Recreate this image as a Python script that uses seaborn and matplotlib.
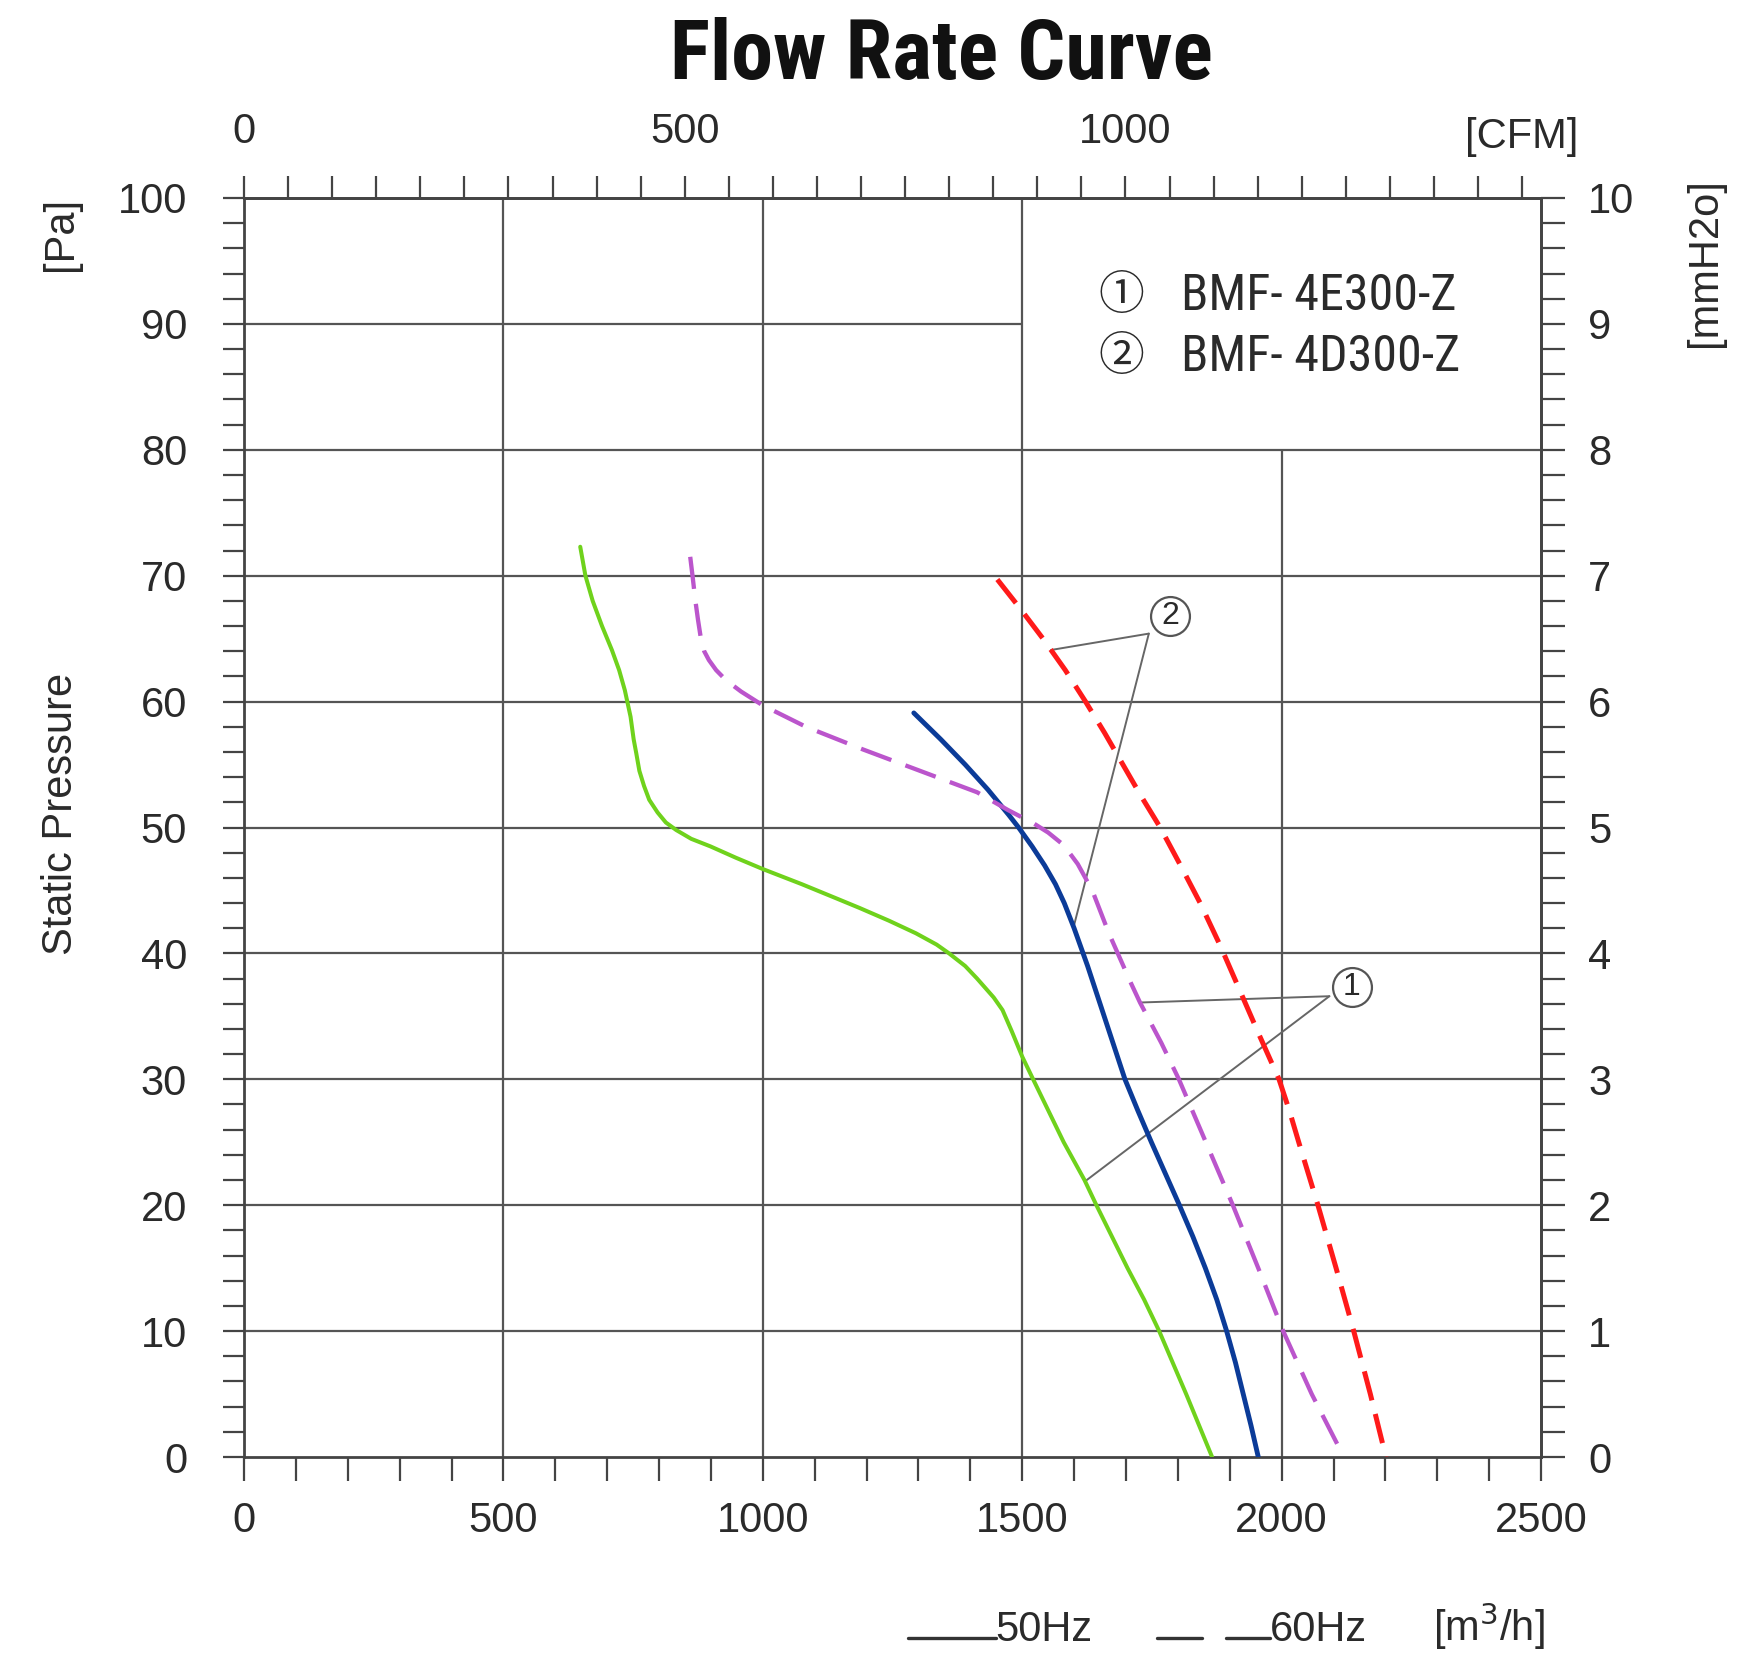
import numpy as np
import pandas as pd
import matplotlib
matplotlib.use("Agg")
import matplotlib.pyplot as plt
import matplotlib.font_manager as fm
import matplotlib.patheffects as pe
import seaborn as sns
from matplotlib.lines import Line2D
from matplotlib.ticker import MultipleLocator, FixedLocator

# ---------------- data (flow m3/h, static pressure Pa) ----------------
e_50_x = [648, 658, 672, 690, 709, 723, 734, 745, 751, 756, 762, 771, 781, 797, 813, 833,
          862, 899, 948, 1000, 1075, 1140, 1187, 1243, 1295, 1335, 1359, 1390, 1413, 1445,
          1462, 1480, 1500, 1521, 1580, 1620, 1643, 1703, 1735, 1764, 1816, 1866]
e_50_y = [72.3, 70.0, 68.0, 66.0, 64.1, 62.5, 60.9, 58.8, 57.0, 55.9, 54.5, 53.3, 52.2,
          51.2, 50.4, 49.8, 49.1, 48.5, 47.6, 46.7, 45.5, 44.4, 43.6, 42.6, 41.6, 40.7,
          40.0, 39.0, 38.0, 36.5, 35.5, 33.8, 31.8, 30.0, 25.0, 22.0, 20.0, 15.0, 12.5,
          10.0, 5.0, 0.0]

d_50_x = [1291, 1343, 1390, 1434, 1474, 1493, 1519, 1543, 1564, 1581, 1600, 1626, 1650,
          1674, 1698, 1723, 1749, 1776, 1803, 1829, 1853, 1875, 1894, 1911, 1926, 1941, 1955]
d_50_y = [59.1, 57.0, 55.0, 53.0, 51.0, 50.0, 48.5, 47.0, 45.5, 44.0, 42.0, 39.0, 36.0,
          33.0, 30.0, 27.5, 25.0, 22.5, 20.0, 17.5, 15.0, 12.5, 10.0, 7.5, 5.0, 2.5, 0.0]

e_60_x = [860, 865, 870, 875, 881, 887, 896, 910, 929, 958, 1000, 1083, 1193, 1303, 1413,
          1472, 1523, 1550, 1580, 1607, 1635, 1667, 1710, 1727, 1768, 1802, 1854, 1906,
          1955, 2003, 2058, 2120]
e_60_y = [71.5, 69.8, 68.0, 66.5, 64.9, 64.0, 63.3, 62.5, 61.7, 60.8, 59.7, 58.0, 56.2,
          54.5, 52.8, 51.4, 50.3, 49.6, 48.6, 47.1, 45.0, 41.6, 37.6, 36.1, 32.9, 30.0,
          25.0, 20.0, 15.0, 10.0, 5.0, 0.0]

d_60_x = [1452, 1494, 1540, 1583, 1622, 1659, 1694, 1729, 1766, 1805, 1843, 1883, 1920,
          1957, 1995, 2015, 2033, 2070, 2105, 2139, 2171, 2201]
d_60_y = [69.7, 67.5, 65.0, 62.5, 60.0, 57.5, 55.0, 52.5, 50.0, 47.0, 44.0, 40.5, 37.0,
          33.5, 30.0, 27.5, 25.0, 20.0, 15.0, 10.0, 5.0, 0.0]

models = ["BMF- 4E300-Z", "BMF- 4D300-Z"]
bottom_ticks = [0, 500, 1000, 1500, 2000, 2500]
left_ticks = [0, 10, 20, 30, 40, 50, 60, 70, 80, 90, 100]
top_ticks_cfm = [0, 500, 1000]
right_ticks = [0, 1, 2, 3, 4, 5, 6, 7, 8, 9, 10]
CFM_FACTOR = 1.699  # m3/h per CFM

# annotation anchor pressures on curves (Pa)
ann2_red_p, ann2_blue_p = 64.1, 42.1
ann1_purple_p, ann1_green_p = 36.1, 21.9

# ---------------- style ----------------
sns.set_theme(style="white")
plt.rcParams['font.family'] = ['Liberation Sans', 'DejaVu Sans', 'Noto Sans CJK JP']
TXT = "#2a2a2a"
GRID = "#555555"

def _w(f):
    w = f.weight
    if isinstance(w, str):
        return {"bold": 700, "heavy": 800, "black": 900, "semibold": 600,
                "demibold": 600, "extra bold": 800, "normal": 400,
                "regular": 400, "book": 400}.get(w.lower(), 400)
    return int(w)

cands = [f for f in fm.fontManager.ttflist
         if (("Narrow" in f.name) or ("Condensed" in f.name)) and f.style == "normal"]
fams = {}
for f in cands:
    fams.setdefault(f.name, {})[_w(f)] = f.fname
order = sorted(fams.keys(), key=lambda n: (0 if "Liberation" in n else
                                           1 if "Roboto" in n else
                                           2 if "Open" in n else 3, n))
narrow_reg, narrow_bold = None, None
for n in order:
    d = fams[n]
    if narrow_reg is None and 400 in d:
        narrow_reg = d[400]
    if narrow_bold is None and 700 in d:
        narrow_bold = d[700]
if narrow_bold is None:
    for n in order:
        for w in (600, 800):
            if w in fams[n] and narrow_bold is None:
                narrow_bold = fams[n][w]

fig = plt.figure(figsize=(17.47, 16.61), dpi=100)
fig.patch.set_facecolor("white")
L, R, B, T = 0.1397, 0.8821, 0.1228, 0.8808
ax = fig.add_axes([L, B, R - L, T - B])
ax.set_facecolor("white")
ax.set_xlim(0, 2500)
ax.set_ylim(0, 100)

# grid (partial, as in the reference)
for gx in [500, 1000, 1500]:
    ax.vlines(gx, 0, 100, color=GRID, lw=1.6, zorder=1)
ax.vlines(2000, 0, 80, color=GRID, lw=1.6, zorder=1)
for gy in [10, 20, 30, 40, 50, 60, 70, 80]:
    ax.hlines(gy, 0, 2500, color=GRID, lw=1.6, zorder=1)
ax.hlines(90, 0, 1500, color=GRID, lw=1.6, zorder=1)

# curves
def draw(xs, ys, color, lw, ls):
    df = pd.DataFrame({"flow": xs, "pressure": ys})
    sns.lineplot(data=df, x="flow", y="pressure", sort=False, estimator=None,
                 color=color, lw=lw, linestyle=ls, ax=ax, zorder=3)

draw(e_50_x, e_50_y, "#6fd21c", 2.9, "-")
draw(d_50_x, d_50_y, "#0b3b98", 3.5, "-")
draw(e_60_x, e_60_y, "#bb55cc", 3.1, (0, (7.5, 3.5)))
draw(d_60_x, d_60_y, "#ff1a1a", 3.6, (0, (6.0, 2.8)))
for ln in ax.lines:
    ln.set_solid_joinstyle("round")
    ln.set_dash_joinstyle("round")

ax.set_xlabel("")
ax.set_ylabel("")

# annotations
def at_p(xs, ys, p):
    return float(np.interp(p, ys[::-1], xs[::-1]))

def circ_label(x, y, s):
    ax.plot([x], [y], marker="o", ms=28, mfc="white", mec="#555555", mew=1.6, zorder=4)
    ax.text(x, y, s, ha="center", va="center", fontsize=23, color=TXT, zorder=5)

v2 = (1744, 65.4)
ax.plot([v2[0], at_p(d_60_x, d_60_y, ann2_red_p)], [v2[1], ann2_red_p], color="#666666", lw=1.4, zorder=2)
ax.plot([v2[0], at_p(d_50_x, d_50_y, ann2_blue_p)], [v2[1], ann2_blue_p], color="#666666", lw=1.4, zorder=2)
circ_label(1785, 66.8, "2")

v1 = (2092, 36.6)
ax.plot([v1[0], at_p(e_60_x, e_60_y, ann1_purple_p)], [v1[1], ann1_purple_p], color="#666666", lw=1.4, zorder=2)
ax.plot([v1[0], at_p(e_50_x, e_50_y, ann1_green_p)], [v1[1], ann1_green_p], color="#666666", lw=1.4, zorder=2)
circ_label(2135, 37.3, "1")

# axes ticks
FS = 30
ax.xaxis.set_major_locator(FixedLocator(bottom_ticks))
ax.xaxis.set_minor_locator(MultipleLocator(100))
ax.yaxis.set_major_locator(FixedLocator(left_ticks))
ax.yaxis.set_minor_locator(MultipleLocator(2))
ax.set_xticklabels([str(v) for v in bottom_ticks])
ax.set_yticklabels([str(v) for v in left_ticks])
ax.tick_params(axis="x", which="both", direction="out", length=17, width=1.6,
               color="#444444", labelsize=FS, labelcolor=TXT, pad=15, bottom=True)
ax.tick_params(axis="y", which="both", direction="out", length=15, width=1.6,
               color="#444444", labelsize=FS, labelcolor=TXT, pad=26, left=True)
for sp in ax.spines.values():
    sp.set_color("#444444")
    sp.set_linewidth(2.0)

secx = ax.secondary_xaxis("top", functions=(lambda q: q / CFM_FACTOR, lambda c: c * CFM_FACTOR))
secx.xaxis.set_major_locator(FixedLocator(top_ticks_cfm))
secx.xaxis.set_minor_locator(MultipleLocator(50))
secx.set_xticklabels([str(v) for v in top_ticks_cfm])
secx.tick_params(axis="x", which="both", direction="out", length=16, width=1.6,
                 color="#444444", labelsize=FS, labelcolor=TXT, pad=17)
secx.spines["top"].set_color("#444444")
secx.spines["top"].set_linewidth(2.0)

secy = ax.secondary_yaxis("right", functions=(lambda p: p / 10.0, lambda m: m * 10.0))
secy.yaxis.set_major_locator(FixedLocator(right_ticks))
secy.yaxis.set_minor_locator(MultipleLocator(0.2))
secy.set_yticklabels([str(v) for v in right_ticks])
secy.tick_params(axis="y", which="both", direction="out", length=17, width=1.6,
                 color="#444444", labelsize=FS, labelcolor=TXT, pad=17)
secy.spines["right"].set_color("#444444")
secy.spines["right"].set_linewidth(2.0)

renderer = fig.canvas.get_renderer()

def fit_width(txt, target_px, max_size):
    bb = txt.get_window_extent(renderer=renderer)
    if bb.width > 0:
        txt.set_fontsize(min(max_size, txt.get_fontsize() * target_px / bb.width))

# title
if narrow_bold:
    title = fig.text(0.539, 0.966, "Flow Rate Curve", ha="center", va="center", color="#111111",
                     fontproperties=fm.FontProperties(fname=narrow_bold, size=60))
    fit_width(title, 543, 66)
elif narrow_reg:
    title = fig.text(0.539, 0.966, "Flow Rate Curve", ha="center", va="center", color="#111111",
                     fontproperties=fm.FontProperties(fname=narrow_reg, size=61),
                     path_effects=[pe.withStroke(linewidth=3.0, foreground="#111111")])
    fit_width(title, 535, 66)
else:
    title = fig.text(0.539, 0.966, "Flow Rate Curve", ha="center", va="center", fontsize=52,
                     fontweight="bold", color="#111111")

fig.text(0.871, 0.9175, "[CFM]", ha="center", va="center", fontsize=FS, color=TXT)
fig.text(0.035, 0.859, "[Pa]", ha="center", va="center", fontsize=FS, rotation=90, color=TXT)
fig.text(0.035, 0.510, "Static Pressure", ha="center", va="center", fontsize=FS, rotation=90, color=TXT)
fig.text(0.976, 0.842, "[mmH2o]", ha="center", va="center", fontsize=FS, rotation=90, color=TXT)

# model legend (top right)
for i, (num, name) in enumerate(zip(["①", "②"], models)):
    yy = 0.822 - i * 0.037
    fig.text(0.642, yy, num, ha="center", va="center", fontsize=33, color=TXT,
             family=["Noto Sans CJK JP", "DejaVu Sans"])
    if narrow_reg:
        fig.text(0.676, yy, name, ha="left", va="center", color=TXT,
                 fontproperties=fm.FontProperties(fname=narrow_reg, size=36))
    else:
        fig.text(0.676, yy, name, ha="left", va="center", fontsize=FS, color=TXT)

# frequency legend (bottom)
yb = 0.014
fig.add_artist(Line2D([0.520, 0.570], [yb, yb], transform=fig.transFigure, color="#333333", lw=2.4))
fig.text(0.570, 0.012, "50Hz", ha="left", va="baseline", fontsize=FS, color=TXT)
fig.add_artist(Line2D([0.662, 0.688], [yb, yb], transform=fig.transFigure, color="#333333", lw=2.4))
fig.add_artist(Line2D([0.702, 0.727], [yb, yb], transform=fig.transFigure, color="#333333", lw=2.4))
fig.text(0.727, 0.012, "60Hz", ha="left", va="baseline", fontsize=FS, color=TXT)
fig.text(0.820, 0.012, "[m$^3$/h]", ha="left", va="baseline", fontsize=FS, color=TXT)

fig.savefig("out.png", dpi=100, facecolor="white")
